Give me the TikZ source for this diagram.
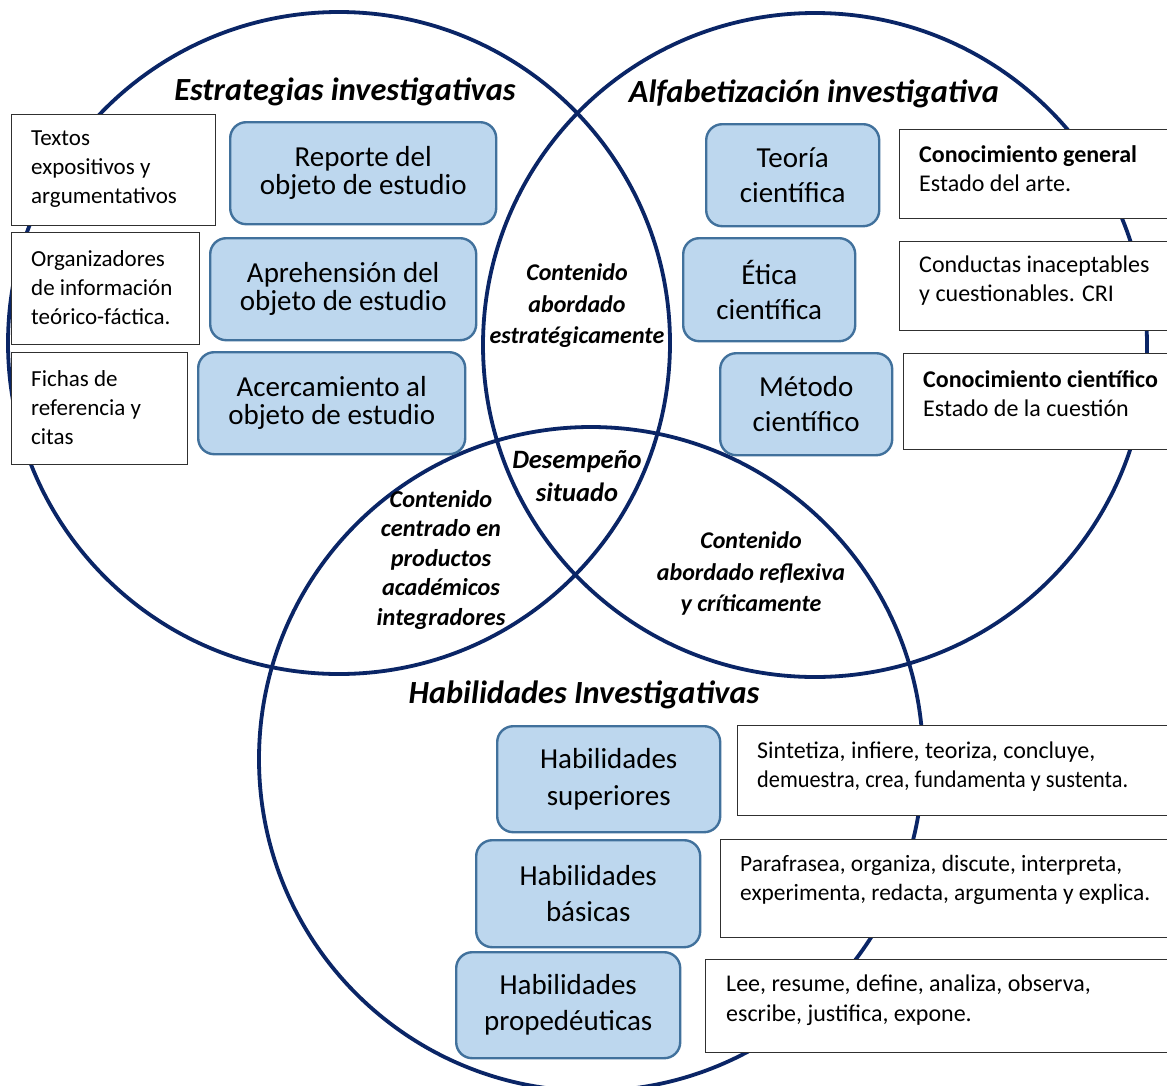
\documentclass[tikz,border=0pt]{standalone}
\usepackage{fontspec}
\setmainfont{Carlito}
\definecolor{navy}{HTML}{0A2566}
\definecolor{bfill}{HTML}{BDD7EE}
\definecolor{bdraw}{HTML}{41719C}
\definecolor{wdraw}{HTML}{303030}
\begin{document}
\begin{tikzpicture}[x=1pt,y=-1pt,
  venn/.style={circle,draw=navy,line width=3.8pt,inner sep=0pt,minimum size=#1},
  bbox/.style={draw=bdraw,fill=bfill,line width=2.4pt,rounded corners=16pt,inner sep=0pt,anchor=north west},
  wbox/.style={draw=wdraw,fill=white,line width=1.3pt,inner sep=0pt,anchor=north west},
  btext/.style={align=center,inner sep=0pt,font=\fontsize{29}{35}\selectfont},
  bltext/.style={align=center,inner sep=0pt,font=\fontsize{29}{28}\selectfont},
  wtext/.style={align=left,inner sep=0pt,anchor=west,font=\fontsize{23}{29}\selectfont},
  wrtext/.style={align=left,inner sep=0pt,anchor=west,font=\fontsize{24}{29}\selectfont},
  head/.style={inner sep=0pt,font=\fontsize{32.3}{34}\selectfont\bfseries\itshape},
  mid/.style={align=center,inner sep=0pt,font=\fontsize{24}{31.5}\selectfont\bfseries\itshape}
]
\useasboundingbox (0,0) rectangle (1167,1085);
\clip (0,0) rectangle (1167,1085);
\fill[white] (0,0) rectangle (1167,1085);
% circles
\node[venn=662pt] (cl) at (339,343) {};
\node[venn=664pt] (cr) at (815,345) {};
\node[venn=664pt] (cb) at (591,759) {};
% headings
\node[head] (hl) at (345,92) {Estrategias investigativas};
\node[head] (hr) at (814,94) {Alfabetización investigativa};
\node[head] (hb) at (584,695) {Habilidades Investigativas};
% left white boxes
\node[wbox,minimum width=204pt,minimum height=111pt] (wl1) at (11,114) {};
\node[wbox,minimum width=188pt,minimum height=112pt] (wl2) at (11,232) {};
\node[wbox,minimum width=176pt,minimum height=112pt] (wl3) at (11,352) {};
\node[wtext] (tl1) at (31,169) {Textos\\expositivos y\\argumentativos};
\node[wtext] (tl2) at (31,288) {Organizadores\\de información\\teórico-fáctica.};
\node[wtext] (tl3) at (31,408) {Fichas de\\referencia y\\citas};
% left blue boxes
\node[bbox,minimum width=266pt,minimum height=102pt] (bl1) at (229,121) {};
\node[bbox,minimum width=266pt,minimum height=102pt] (bl2) at (209,237) {};
\node[bbox,minimum width=267pt,minimum height=102pt] (bl3) at (197,351) {};
\node[bltext] (tbl1) at (bl1.center) {Reporte del\\objeto de estudio};
\node[bltext] (tbl2) at (bl2.center) {Aprehensión del\\objeto de estudio};
\node[bltext] (tbl3) at (bl3.center) {Acercamiento al\\objeto de estudio};
% right blue boxes
\node[bbox,minimum width=173pt,minimum height=102pt] (br1) at (705,123) {};
\node[bbox,minimum width=172pt,minimum height=103pt] (br2) at (682,237) {};
\node[bbox,minimum width=172pt,minimum height=102pt] (br3) at (719,352) {};
\node[btext] (tbr1) at (br1.center) {Teoría\\científica};
\node[btext] (tbr2) at (br2.center) {Ética\\científica};
\node[btext] (tbr3) at (br3.center) {Método\\científico};
% right white boxes
\node[wbox,minimum width=290pt,minimum height=89pt] (wr1) at (899,129) {};
\node[wbox,minimum width=290pt,minimum height=89pt] (wr2) at (899,241) {};
\node[wbox,minimum width=290pt,minimum height=96pt] (wr3) at (903,353) {};
\node[wrtext] (tr1) at (919,169) {\textbf{Conocimiento general}\\Estado del arte.};
\node[wrtext] (tr2) at (919,280.5) {Conductas inaceptables\\y cuestionables. CRI};
\node[wrtext] (tr3) at (923,393.5) {\textbf{Conocimiento científico}\\Estado de la cuestión};
% bottom blue boxes
\node[bbox,minimum width=223pt,minimum height=106pt] (bb1) at (496,725) {};
\node[bbox,minimum width=224pt,minimum height=107pt] (bb2) at (475,839) {};
\node[bbox,minimum width=224pt,minimum height=106pt] (bb3) at (455,951) {};
\node[btext,font=\fontsize{29}{37}\selectfont] (tbb1) at (bb1.center) {Habilidades\\superiores};
\node[btext,font=\fontsize{29}{36}\selectfont] (tbb2) at (bb2.center) {Habilidades\\básicas};
\node[btext,font=\fontsize{29}{36}\selectfont] (tbb3) at (bb3.center) {Habilidades\\propedéuticas};
% bottom white boxes
\node[wbox,minimum width=450pt,minimum height=90pt] (wb1) at (737,725) {};
\node[wbox,minimum width=460pt,minimum height=98pt] (wb2) at (720,839) {};
\node[wbox,minimum width=470pt,minimum height=93pt] (wb3) at (705,959) {};
\node[wrtext] (tb1) at (757,766.5) {Sintetiza, infiere, teoriza, concluye,\\\scalebox{0.93}[1]{demuestra, crea, fundamenta y sustenta.}};
\node[wrtext,font=\fontsize{23.4}{28.5}\selectfont] (tb2) at (740,880) {Parafrasea, organiza, discute, interpreta,\\experimenta, redacta, argumenta y explica.};
\node[wrtext,font=\fontsize{24}{30}\selectfont] (tb3) at (726,1000) {Lee, resume, define, analiza, observa,\\escribe, justifica, expone.};
% overlap labels
\node[mid] (m1) at (577,306) {Contenido\\abordado\\estratégicamente};
\node[mid,font=\fontsize{26.5}{33}\selectfont\bfseries\itshape] (m2) at (577,476.5) {Desempeño\\situado};
\node[mid,font=\fontsize{24.3}{29.5}\selectfont\bfseries\itshape] (m3) at (441,560) {Contenido\\centrado en\\productos\\académicos\\integradores};
\node[mid] (m4) at (751,573.5) {Contenido\\abordado reflexiva\\y críticamente};
\end{tikzpicture}
\end{document}
